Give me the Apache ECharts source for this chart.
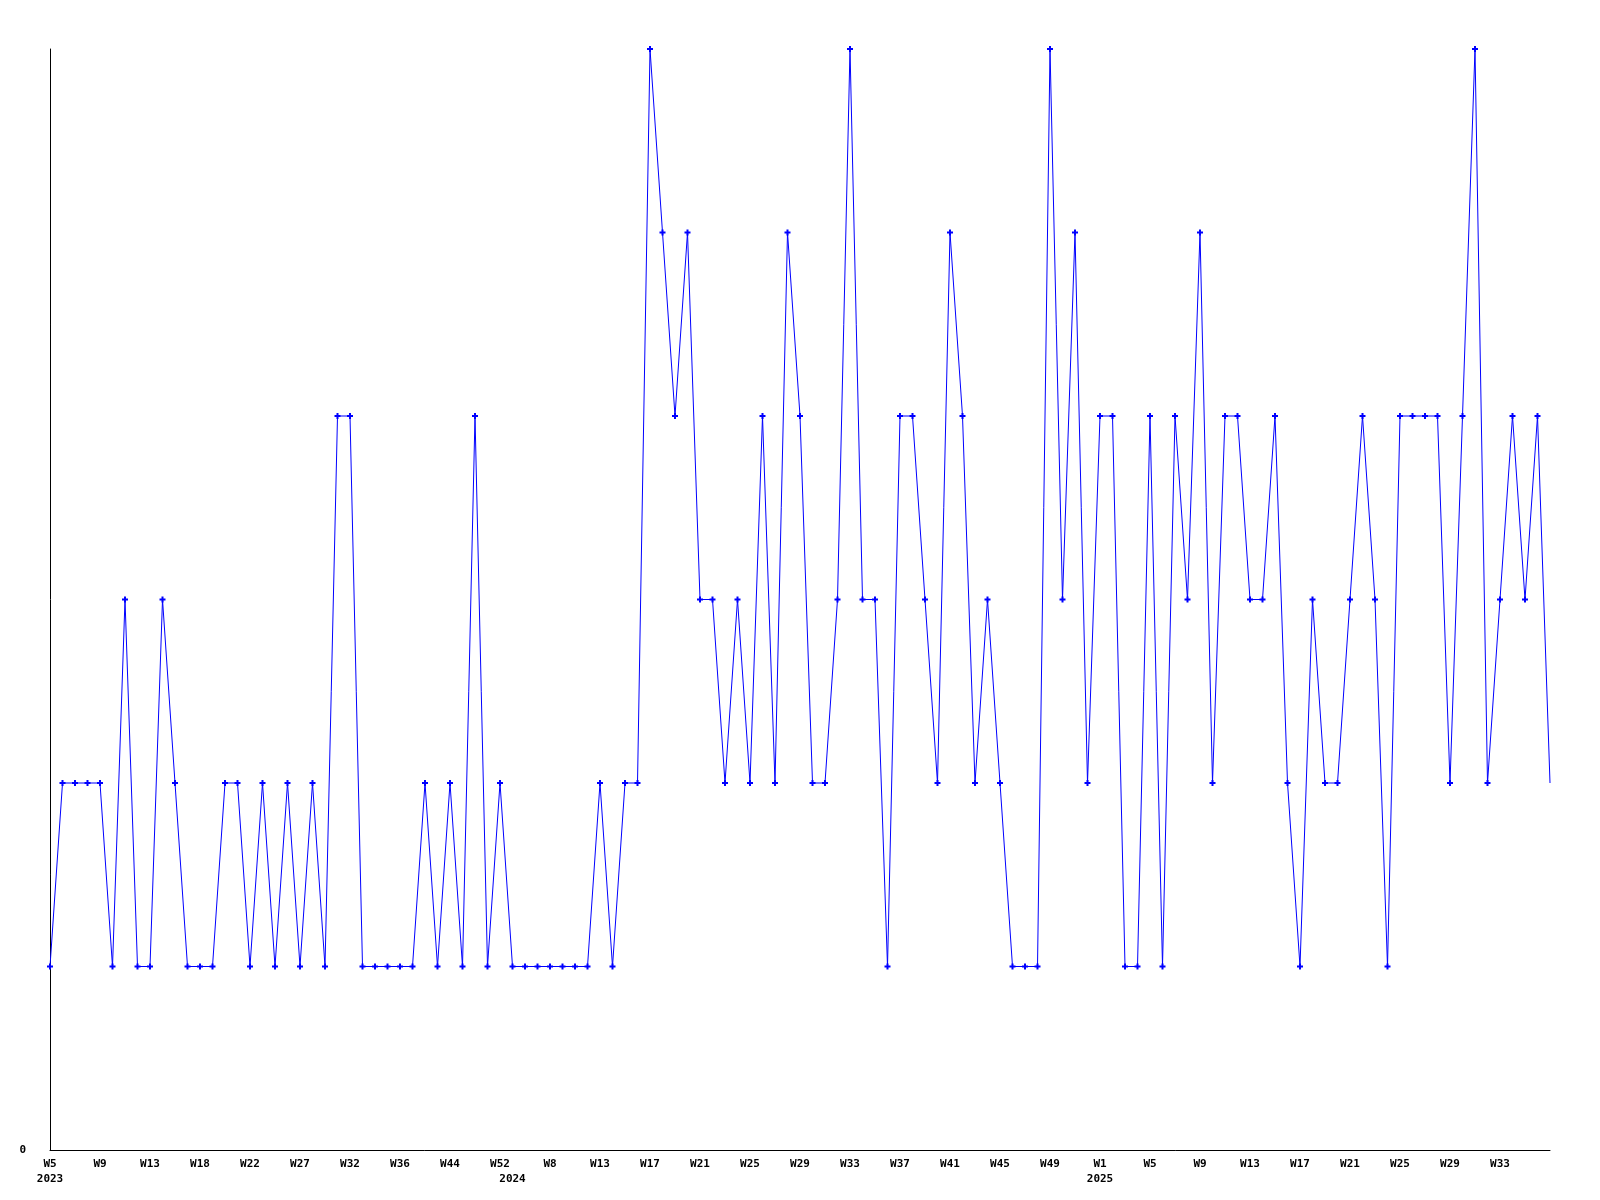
<!DOCTYPE html>
<html>
<head>
<meta charset="utf-8">
<script src="https://cdn.jsdelivr.net/npm/echarts@6/dist/echarts.min.js"></script>
<style>
html,body{margin:0;padding:0;background:#fff;}
#chart{width:1600px;height:1200px;}
</style>
</head>
<body>
<div id="chart"></div>
<script>
// Week categories (year-week)
var categories = [
 "2023-W05","2023-W06","2023-W07","2023-W08","2023-W09","2023-W10","2023-W11","2023-W12","2023-W13","2023-W14",
 "2023-W15","2023-W16","2023-W18","2023-W19","2023-W20","2023-W21","2023-W22","2023-W23","2023-W24","2023-W26",
 "2023-W27","2023-W28","2023-W29","2023-W31","2023-W32","2023-W33","2023-W34","2023-W35","2023-W36","2023-W38",
 "2023-W40","2023-W42","2023-W44","2023-W46","2023-W48","2023-W50","2023-W52",
 "2024-W01","2024-W03","2024-W05","2024-W08","2024-W09","2024-W10","2024-W12","2024-W13","2024-W14","2024-W15",
 "2024-W16","2024-W17","2024-W18","2024-W19","2024-W20","2024-W21","2024-W22","2024-W23","2024-W24","2024-W25",
 "2024-W26","2024-W27","2024-W28","2024-W29","2024-W30","2024-W31","2024-W32","2024-W33","2024-W34","2024-W35",
 "2024-W36","2024-W37","2024-W38","2024-W39","2024-W40","2024-W41","2024-W42","2024-W43","2024-W44","2024-W45",
 "2024-W46","2024-W47","2024-W48","2024-W49","2024-W50","2024-W51","2024-W52",
 "2025-W01","2025-W02","2025-W03","2025-W04","2025-W05","2025-W06","2025-W07","2025-W08","2025-W09","2025-W10",
 "2025-W11","2025-W12","2025-W13","2025-W14","2025-W15","2025-W16","2025-W17","2025-W18","2025-W19","2025-W20",
 "2025-W21","2025-W22","2025-W23","2025-W24","2025-W25","2025-W26","2025-W27","2025-W28","2025-W29","2025-W30",
 "2025-W31","2025-W32","2025-W33","2025-W34","2025-W35","2025-W36","2025-W37"
];

// Weekly values
var values = [
 1,2,2,2,2,1,3,1,1,3,
 2,1,1,1,2,2,1,2,1,2,
 1,2,1,4,4,1,1,1,1,1,
 2,1,2,1,4,1,2,1,1,1,
 1,1,1,1,2,1,2,2,6,5,
 4,5,3,3,2,3,2,4,2,5,
 4,2,2,3,6,3,3,1,4,4,
 3,2,5,4,2,3,2,1,1,1,
 6,3,5,2,4,4,1,1,4,1,
 4,3,5,2,4,4,3,3,4,2,
 1,3,2,2,3,4,3,1,4,4,
 4,4,2,4,6,2,3,4,3,4,
 2
];

// Y tick labels shown
var yTickLabels = {0: "0"};

var FONT = "DejaVu Sans Mono";

function weekLabel(cat) {
  var parts = cat.split("-W");
  return "W" + parseInt(parts[1], 10);
}
function isYearStart(idx) {
  if (idx === 0) return true;
  return categories[idx].slice(0, 4) !== categories[idx - 1].slice(0, 4);
}
var lastIdx = categories.length - 1;

var seriesData = values.map(function (v, i) {
  if (i === values.length - 1) return { value: v, symbol: 'none' };
  return v;
});

var chart = echarts.init(document.getElementById('chart'), null, { renderer: 'canvas' });
chart.setOption({
  animation: false,
  backgroundColor: '#ffffff',
  grid: { left: 50, right: 50, top: 49, bottom: 50, containLabel: false },
  xAxis: {
    type: 'category',
    data: categories,
    boundaryGap: false,
    axisLine: { show: true, lineStyle: { color: '#000', width: 1 } },
    axisTick: { show: false },
    splitLine: { show: false },
    axisLabel: {
      interval: function (idx) { return idx !== lastIdx && (idx % 4 === 0 || isYearStart(idx)); },
      formatter: function (val, idx) {
        var top = (idx % 4 === 0) ? weekLabel(val) : ' ';
        if (isYearStart(idx)) return top + '\n' + val.slice(0, 4);
        return top;
      },
      color: '#000',
      fontFamily: FONT,
      fontWeight: 'bold',
      fontSize: 11,
      lineHeight: 15,
      margin: 7,
      hideOverlap: false
    }
  },
  yAxis: {
    type: 'value',
    min: 0,
    max: 6,
    interval: 1,
    axisLine: { show: true, lineStyle: { color: '#000', width: 1 } },
    axisTick: { show: false },
    splitLine: { show: false },
    axisLabel: {
      formatter: function (v) { return yTickLabels[v] !== undefined ? yTickLabels[v] : ''; },
      color: '#000',
      fontFamily: FONT,
      fontWeight: 'bold',
      fontSize: 11,
      margin: 24
    }
  },
  series: [{
    type: 'line',
    data: seriesData,
    symbol: 'path://M2,0H4V2H6V4H4V6H2V4H0V2H2Z',
    symbolSize: 6,
    showAllSymbol: true,
    itemStyle: { color: '#0000ff' },
    lineStyle: { color: '#0000ff', width: 1 },
    emphasis: { disabled: true }
  }]
});
</script>
</body>
</html>
